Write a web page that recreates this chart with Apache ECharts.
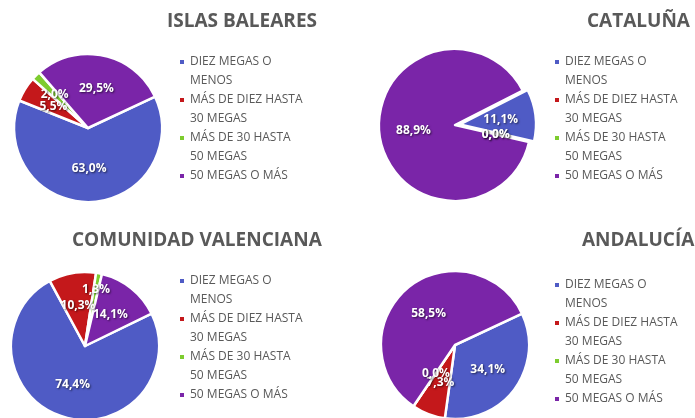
<!DOCTYPE html>
<html>
<head>
<meta charset="utf-8">
<script src="https://cdn.jsdelivr.net/npm/echarts@6/dist/echarts.min.js"></script>
<style>
  html, body { margin: 0; padding: 0; background: #fff; }
  #chart { width: 695px; height: 418px; }
</style>
</head>
<body>
<div id="chart"></div>
<script>
// categorías de velocidad
var categorias = ['DIEZ MEGAS O MENOS', 'MÁS DE DIEZ HASTA 30 MEGAS', 'MÁS DE 30 HASTA 50 MEGAS', '50 MEGAS O MÁS'];
// texto de la leyenda (línea en blanco arriba para que el cuadro quede en la primera línea)
var textoLeyenda = [' \nDIEZ MEGAS O\nMENOS', ' \nMÁS DE DIEZ HASTA\n30 MEGAS', ' \nMÁS DE 30 HASTA\n50 MEGAS', ' \n50 MEGAS O MÁS\n '];
var regiones = ['ISLAS BALEARES', 'CATALUÑA', 'COMUNIDAD VALENCIANA', 'ANDALUCÍA'];

// porcentajes por región
var baleares = [63.0, 5.5, 2.0, 29.5];
var cataluna = [11.1, 0.0, 0.0, 88.9];
var valenciana = [74.4, 10.3, 1.3, 14.1];
var andalucia = [34.1, 7.3, 0.0, 58.5];

var colores = ['#4F5BC5', '#C4181B', '#7DCC2F', '#7A25A8'];

// posición de cada panel; etiqueta/chica/cero/dest = distancia relativa de las etiquetas al centro
var paneles = [
  { valores: baleares,   centro: [88, 128],  radio: 74, angulo: 25, titulo: [167, 12],  leyenda: [178, 33.5],  destacado: -1, etiqueta: 0.55, chica: 0.64, cero: 0.46, dest: 0.54 },
  { valores: cataluna,   centro: [455, 125], radio: 76, angulo: 27, titulo: [587, 12],  leyenda: [553, 33.5],  destacado: 0,  etiqueta: 0.55, chica: 0.64, cero: 0.55, dest: 0.54 },
  { valores: valenciana, centro: [85, 346],  radio: 74, angulo: 26, titulo: [72, 231],  leyenda: [178, 252.5], destacado: -1, etiqueta: 0.55, chica: 0.78, cero: 0.46, dest: 0.54 },
  { valores: andalucia,  centro: [455, 345], radio: 74, angulo: 25, titulo: [582, 231], leyenda: [553, 256.5], destacado: -1, etiqueta: 0.55, chica: 0.64, cero: 0.46, dest: 0.54 }
];

var chart = echarts.init(document.getElementById('chart'));

function pct(v) {
  return v.toFixed(1).replace('.', ',') + '%';
}

var titles = [], legends = [], series = [];
paneles.forEach(function (p, i) {
  titles.push({
    text: regiones[i],
    left: p.titulo[0],
    top: p.titulo[1],
    padding: 0,
    textStyle: { fontFamily: 'Open Sans', fontWeight: 'bold', fontSize: 19, color: '#595959' }
  });
  legends.push({
    data: categorias,
    orient: 'vertical',
    left: p.leyenda[0],
    top: p.leyenda[1],
    height: 400,
    padding: 0,
    itemWidth: 6,
    itemHeight: 6,
    itemGap: -19,
    icon: 'rect',
    selectedMode: false,
    formatter: function (name) { return textoLeyenda[categorias.indexOf(name)]; },
    textStyle: { fontFamily: 'Open Sans', fontSize: 12, color: '#595959', lineHeight: 19 }
  });
  series.push({
    type: 'pie',
    center: p.centro,
    radius: p.radio,
    startAngle: p.angulo,
    clockwise: true,
    selectedMode: 'multiple',
    selectedOffset: 5,
    avoidLabelOverlap: false,
    animation: false,
    itemStyle: { borderColor: '#fff', borderWidth: 2.5 },
    label: {
      position: 'inside',
      formatter: function (prm) { return pct(prm.value); },
      fontFamily: 'Open Sans',
      fontWeight: 'bold',
      fontSize: 12,
      color: '#fff',
      textShadowColor: 'rgba(0,0,0,0.6)',
      textShadowBlur: 2,
      textShadowOffsetX: 1,
      textShadowOffsetY: 1
    },
    labelLine: { show: false },
    labelLayout: function (prm) {
      // mover la etiqueta a lo largo de su radio
      var pn = paneles[prm.seriesIndex];
      var v = pn.valores[prm.dataIndex];
      var f = pn.etiqueta;
      if (prm.dataIndex === pn.destacado) f = pn.dest;
      else if (v === 0) f = pn.cero;
      else if (v < 3) f = pn.chica;
      var r = prm.labelRect;
      var cx = r.x + r.width / 2 - pn.centro[0];
      var cy = r.y + r.height / 2 - pn.centro[1];
      var d = Math.sqrt(cx * cx + cy * cy) || 1;
      var k = (f * pn.radio) / d - 1;
      return { dx: cx * k, dy: cy * k };
    },
    emphasis: { disabled: true },
    data: categorias.map(function (c, k) {
      return { name: c, value: p.valores[k], selected: k === p.destacado, itemStyle: { color: colores[k] } };
    })
  });
});

chart.setOption({
  backgroundColor: '#fff',
  color: colores,
  title: titles,
  legend: legends,
  series: series
});
</script>
</body>
</html>
